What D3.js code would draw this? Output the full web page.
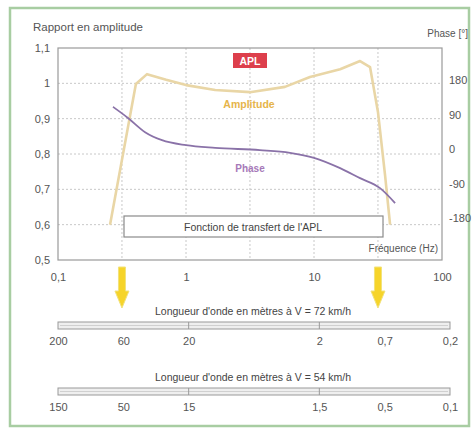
<!DOCTYPE html>
<html><head><meta charset="utf-8">
<script src="https://cdn.jsdelivr.net/npm/d3@7"></script>
<style>
html,body{margin:0;padding:0;background:#fff;}
text{font-family:"Liberation Sans",Arial,sans-serif;}
</style></head>
<body>
<svg id="c" width="473" height="430"></svg>
<script>
// ---- data ----
const ampFreq  = [0.255, 0.406, 0.496, 0.7, 1, 1.69, 3.16, 5.93, 9.3, 16, 22.9, 27.4, 31.6, 35.9, 39.3];
const ampValue = [0.60, 0.998, 1.026, 1.01, 0.995, 0.981, 0.975, 0.99, 1.018, 1.04, 1.063, 1.046, 0.919, 0.74, 0.60];
const phaseFreq  = [0.269, 0.352, 0.479, 0.649, 1, 1.69, 3.78, 6.49, 10, 16, 22.9, 32.8, 43];
const phaseValue = [110, 81, 44, 23, 10, 3, -3, -10, -23, -50, -76, -102, -141];
const ampTicks = [1.1, 1, 0.9, 0.8, 0.7, 0.6, 0.5];
const ampTickLabels = ["1,1", "1", "0,9", "0,8", "0,7", "0,6", "0,5"];
const phaseTicks = [180, 90, 0, -90, -180];
const freqTicks = [0.1, 1, 10, 100];
const freqTickLabels = ["0,1", "1", "10", "100"];
const gridFreqs = [0.316, 1, 3.16, 10, 31.6];
const arrowFreqs = [0.316, 31.6];
const barFreqs = [0.1, 0.316, 1, 10, 31.6, 100];
const wave72Labels = ["200", "60", "20", "2", "0,7", "0,2"];
const wave54Labels = ["150", "50", "15", "1,5", "0,5", "0,1"];

// ---- layout ----
const svg = d3.select("#c");
const L = 58, R = 442, T = 48, B = 260;
const x = d3.scaleLog().domain([0.1, 100]).range([L, R]);
const yA = d3.scaleLinear().domain([0.5, 1.1]).range([B, T]);
const yP = d3.scaleLinear().domain([-180, 180]).range([218, 80]);
const xBar = d3.scaleLog().domain([0.1, 100]).range([58, 450]);
const txt = "#555";

// frame
svg.append("rect").attr("x", 10).attr("y", 8).attr("width", 459).attr("height", 418)
  .attr("fill", "#fff").attr("stroke", "#a8cda2").attr("stroke-width", 2.5);

// grid
const g = svg.append("g");
g.selectAll(".hg").data(ampTicks.slice(1, -1)).join("line")
  .attr("x1", L).attr("x2", R).attr("y1", d => yA(d)).attr("y2", d => yA(d))
  .attr("stroke", "#c8c8c8").attr("stroke-dasharray", "2,2");
g.selectAll(".vg").data(gridFreqs).join("line")
  .attr("x1", d => x(d)).attr("x2", d => x(d)).attr("y1", T).attr("y2", B)
  .attr("stroke", "#c8c8c8").attr("stroke-dasharray", "2,2");
g.append("rect").attr("x", L).attr("y", T).attr("width", R - L).attr("height", B - T)
  .attr("fill", "none").attr("stroke", "#9a9a9a").attr("stroke-width", 1.2);

// axes
const styleAxis = sel => {
  sel.select(".domain").remove();
  sel.selectAll("text").attr("fill", txt).attr("font-size", 11);
};
svg.append("g").attr("transform", `translate(${L},0)`)
  .call(d3.axisLeft(yA).tickValues(ampTicks).tickFormat((d, i) => ampTickLabels[i]).tickSize(0).tickPadding(8))
  .call(styleAxis);
svg.append("g").attr("transform", `translate(${R},0)`)
  .call(d3.axisRight(yP).tickValues(phaseTicks).tickFormat(d => String(d)).tickSize(0).tickPadding(7))
  .call(styleAxis);
svg.append("g").attr("transform", `translate(0,${B})`)
  .call(d3.axisBottom(x).tickValues(freqTicks).tickFormat((d, i) => freqTickLabels[i]).tickSize(0).tickPadding(13))
  .call(styleAxis);

svg.append("text").attr("x", 33).attr("y", 31).attr("font-size", 11.5).attr("fill", txt).text("Rapport en amplitude");
svg.append("text").attr("x", 468).attr("y", 37).attr("text-anchor", "end").attr("font-size", 10).attr("fill", txt).text("Phase [°]");
svg.append("text").attr("x", 438).attr("y", 252).attr("text-anchor", "end").attr("font-size", 10).attr("fill", txt).text("Fréquence (Hz)");

// transfer function box
svg.append("rect").attr("x", 124).attr("y", 216).attr("width", 259).attr("height", 21)
  .attr("fill", "#fff").attr("stroke", "#8a8a8a").attr("stroke-width", 1.2);
svg.append("text").attr("x", 253).attr("y", 230.5).attr("text-anchor", "middle").attr("font-size", 10.5).attr("fill", "#444")
  .text("Fonction de transfert de l'APL");

// curves
const lineA = d3.line().x((d, i) => x(ampFreq[i])).y(d => yA(d)).curve(d3.curveLinear);
svg.append("path").attr("d", lineA(ampValue)).attr("fill", "none").attr("stroke", "#e9d6a6").attr("stroke-width", 2.6)
  .attr("stroke-linejoin", "round");
const lineP = d3.line().x((d, i) => x(phaseFreq[i])).y(d => yP(d)).curve(d3.curveMonotoneX);
svg.append("path").attr("d", lineP(phaseValue)).attr("fill", "none").attr("stroke", "#8a72a8").attr("stroke-width", 1.8);

// labels in plot
svg.append("rect").attr("x", 233).attr("y", 53).attr("width", 34).attr("height", 15).attr("fill", "#dd3f4c");
svg.append("text").attr("x", 250).attr("y", 64.5).attr("text-anchor", "middle").attr("font-size", 10.5)
  .attr("font-weight", "bold").attr("fill", "#fff").text("APL");
svg.append("text").attr("x", 249).attr("y", 108).attr("text-anchor", "middle").attr("font-size", 10.5)
  .attr("font-weight", "bold").attr("fill", "#e6b44a").text("Amplitude");
svg.append("text").attr("x", 250).attr("y", 172).attr("text-anchor", "middle").attr("font-size", 10)
  .attr("font-weight", "bold").attr("fill", "#a679b8").text("Phase");

// arrows
arrowFreqs.forEach(f => {
  const cx = x(f);
  const top = 267, mid = 291, bot = 308;
  svg.append("path")
    .attr("d", `M${cx - 3.5},${top} L${cx + 3.5},${top} L${cx + 3.5},${mid} L${cx + 7},${mid} L${cx},${bot} L${cx - 7},${mid} L${cx - 3.5},${mid} Z`)
    .attr("fill", "#f6d42a").attr("stroke", "#f2e27a").attr("stroke-width", 1);
});

// wavelength scales
function scaleBar(y0, title, labels) {
  svg.append("text").attr("x", 253).attr("y", y0 - 7).attr("text-anchor", "middle").attr("font-size", 10.5)
    .attr("fill", "#444").text(title);
  const gb = svg.append("g");
  gb.append("rect").attr("x", xBar(0.1)).attr("y", y0).attr("width", xBar(100) - xBar(0.1)).attr("height", 7)
    .attr("fill", "#efefef").attr("stroke", "#999").attr("stroke-width", 1);
  gb.append("line").attr("x1", xBar(0.1) + 2).attr("x2", xBar(100) - 2).attr("y1", y0 + 3.5).attr("y2", y0 + 3.5)
    .attr("stroke", "#d0d0d0").attr("stroke-width", 1);
  gb.selectAll(".dv").data([1, 10]).join("line")
    .attr("x1", d => xBar(d)).attr("x2", d => xBar(d)).attr("y1", y0).attr("y2", y0 + 7)
    .attr("stroke", "#999");
  svg.append("g").attr("transform", `translate(0,${y0 + 7})`)
    .call(d3.axisBottom(xBar).tickValues(barFreqs).tickFormat((d, i) => labels[i]).tickSize(0).tickPadding(8))
    .call(styleAxis);
}
scaleBar(322, "Longueur d'onde en mètres à V = 72 km/h", wave72Labels);
scaleBar(388, "Longueur d'onde en mètres à V = 54 km/h", wave54Labels);
</script>
</body></html>
